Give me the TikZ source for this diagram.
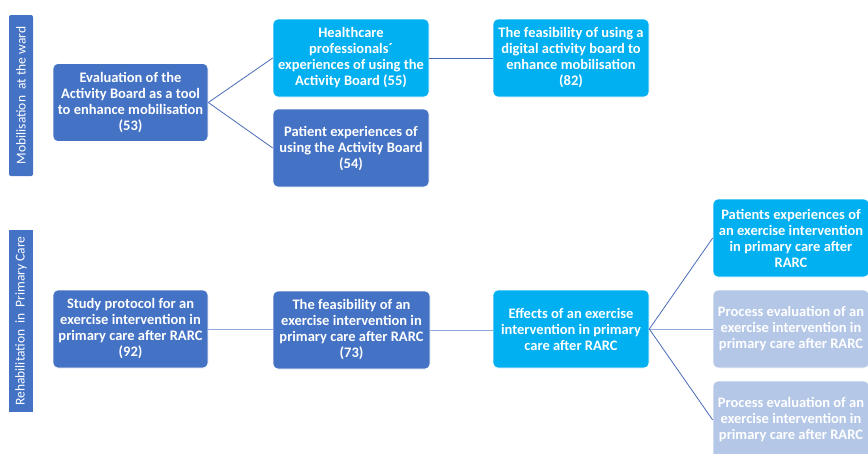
\documentclass[tikz,border=0pt]{standalone}
\usepackage{fontspec}
\setmainfont{Carlito}
\begin{document}
\begin{tikzpicture}[x=1pt,y=-1pt,
  box/.style={rounded corners=5pt, minimum width=156pt, minimum height=78pt, inner sep=1pt,
    text=white, font=\fontsize{14.5}{16}\selectfont\bfseries, align=center},
  darkbox/.style={box, fill=dkblue, draw=white, line width=0.6pt},
  cyanbox/.style={box, fill=cyanb, draw=white, line width=0.6pt},
  lightbox/.style={box, fill=ltblue, draw=white, line width=0.6pt},
  sidelabel/.style={fill=dkblue, minimum height=24pt, text=white, inner sep=0pt,
    font=\fontsize{13.5}{15}\selectfont, rotate=90},
  conn/.style={draw=lnblue, line width=0.8pt},
  connl/.style={draw=lnlight, line width=1pt}]
\definecolor{dkblue}{HTML}{4472C4}
\definecolor{cyanb}{HTML}{00B0F0}
\definecolor{ltblue}{HTML}{B4C7E7}
\definecolor{lnblue}{HTML}{4A6BB5}
\definecolor{lnlight}{HTML}{8FAADC}
\useasboundingbox (0,0) rectangle (868,453);
\clip (0,0) rectangle (868,453);

\node[sidelabel, minimum width=161pt, rounded corners=2pt] (s1) at (21,95.5) {Mobilisation\ \ at the ward};
\node[sidelabel, minimum width=182pt] (s2) at (21,321) {Rehabilitation\ \ in\ \ Primary Care};

\node[darkbox, minimum width=155pt] (b53) at (130.5,102.5) {Evaluation of the\\Activity Board as a tool\\to enhance mobilisation\\(53)};
\node[cyanbox] (b55) at (351,58) {Healthcare\\professionals´\\experiences of using the\\Activity Board (55)};
\node[darkbox] (b54) at (351,148) {Patient experiences of\\using the Activity Board\\(54)};
\node[cyanbox] (b82) at (571,58) {The feasibility of using a\\digital activity board to\\enhance mobilisation\\(82)};

\node[darkbox, minimum width=155pt] (b92) at (130.5,329) {Study protocol for an\\exercise intervention in\\primary care after RARC\\(92)};
\node[darkbox, minimum width=157pt] (b73) at (351.5,330) {The feasibility of an\\exercise intervention in\\primary care after RARC\\(73)};
\node[cyanbox] (eff) at (571,329) {Effects of an exercise\\intervention in primary\\care after RARC};
\node[cyanbox] (pat) at (791,238) {Patients experiences of\\an exercise intervention\\in primary care after\\RARC};
\node[lightbox] (pe1) at (791,329) {Process evaluation of an\\exercise intervention in\\primary care after RARC};
\node[lightbox] (pe2) at (791,420) {Process evaluation of an\\exercise intervention in\\primary care after RARC};

\draw[conn] (b53.east) -- (b55.west);
\draw[conn] (b53.east) -- (b54.west);
\draw[conn] (b55.east) -- (b82.west);
\draw[connl] (b92.east) -- (b92.east -| b73.west);
\draw[connl] (b73.east) -- (b73.east -| eff.west);
\draw[conn] (eff.east) -- (pat.west);
\draw[connl] (eff.east) -- (pe1.west);
\draw[conn] (eff.east) -- (pe2.west);
\end{tikzpicture}
\end{document}
